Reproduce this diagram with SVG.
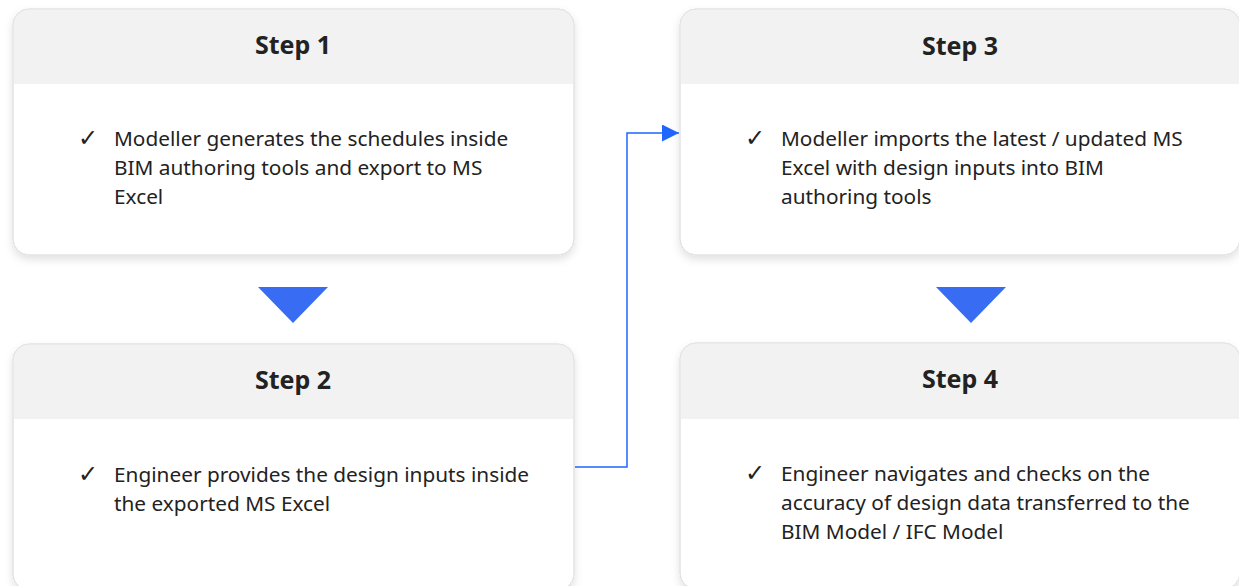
<svg xmlns="http://www.w3.org/2000/svg" width="1239" height="586" viewBox="0 0 1239 586">
<defs>
<filter id="sh" x="-10%" y="-10%" width="120%" height="130%">
<feDropShadow dx="0" dy="4" stdDeviation="4" flood-color="#000" flood-opacity="0.12"/>
</filter>
<clipPath id="c1"><rect x="13" y="9" width="561" height="246" rx="16"/></clipPath>
<clipPath id="c2"><rect x="13" y="344" width="561" height="246" rx="16"/></clipPath>
<clipPath id="c3"><rect x="680" y="9" width="560" height="246" rx="16"/></clipPath>
<clipPath id="c4"><rect x="680" y="343" width="560" height="246" rx="16"/></clipPath>
<marker id="ah" viewBox="0 0 10 10" refX="10" refY="5" markerWidth="17" markerHeight="17" markerUnits="userSpaceOnUse" orient="auto">
<path d="M0,0 L10,5 L0,10 Z" fill="#1f66ff"/>
</marker>
</defs>
<style>
.card{fill:#fff;stroke:#e2e2e2;stroke-width:1}
.hd{fill:#f2f2f2}
.title{font-family:"Noto Sans","Lato",sans-serif;font-weight:700;font-size:25px;fill:#222;text-anchor:middle}
.tx{font-family:"Noto Sans","Open Sans",sans-serif;font-size:20.8px;fill:#222}
.ck{font-family:"DejaVu Sans",sans-serif;font-size:24px;fill:#222}
.tri{fill:#386cf2}
</style>
<rect width="1239" height="586" fill="#fff"/>
<g id="step1">
<rect class="card" x="13" y="9" width="561" height="246" rx="16" filter="url(#sh)"/>
<rect class="hd" x="13" y="9" width="561" height="75" clip-path="url(#c1)"/>
<rect x="13" y="9" width="561" height="246" rx="16" fill="none" stroke="#e2e2e2"/>
<text class="title" x="293" y="54">Step 1</text>
<text class="ck" x="78" y="146">✓</text>
<text class="tx" x="114" y="146">Modeller generates the schedules inside</text>
<text class="tx" x="114" y="175">BIM authoring tools and export to MS</text>
<text class="tx" x="114" y="204">Excel</text>
</g>
<g id="step2">
<rect class="card" x="13" y="344" width="561" height="246" rx="16" filter="url(#sh)"/>
<rect class="hd" x="13" y="344" width="561" height="75" clip-path="url(#c2)"/>
<rect x="13" y="344" width="561" height="246" rx="16" fill="none" stroke="#e2e2e2"/>
<text class="title" x="293" y="389">Step 2</text>
<text class="ck" x="78" y="482">✓</text>
<text class="tx" x="114" y="482">Engineer provides the design inputs inside</text>
<text class="tx" x="114" y="511">the exported MS Excel</text>
</g>
<g id="step3">
<rect class="card" x="680" y="9" width="560" height="246" rx="16" filter="url(#sh)"/>
<rect class="hd" x="680" y="9" width="560" height="75" clip-path="url(#c3)"/>
<rect x="680" y="9" width="560" height="246" rx="16" fill="none" stroke="#e2e2e2"/>
<text class="title" x="960" y="55">Step 3</text>
<text class="ck" x="745" y="146">✓</text>
<text class="tx" x="781" y="146">Modeller imports the latest / updated MS</text>
<text class="tx" x="781" y="175">Excel with design inputs into BIM</text>
<text class="tx" x="781" y="204">authoring tools</text>
</g>
<g id="step4">
<rect class="card" x="680" y="343" width="560" height="246" rx="16" filter="url(#sh)"/>
<rect class="hd" x="680" y="343" width="560" height="76" clip-path="url(#c4)"/>
<rect x="680" y="343" width="560" height="246" rx="16" fill="none" stroke="#e2e2e2"/>
<text class="title" x="960" y="388">Step 4</text>
<text class="ck" x="745" y="481">✓</text>
<text class="tx" x="781" y="481">Engineer navigates and checks on the</text>
<text class="tx" x="781" y="510">accuracy of design data transferred to the</text>
<text class="tx" x="781" y="539">BIM Model / IFC Model</text>
</g>
<g id="connectors">
<polygon class="tri" points="258,287 328,287 293,323"/>
<polygon class="tri" points="936,287 1006,287 971,323"/>
<polyline points="575,467 627,467 627,133 679,133" fill="none" stroke="#1f66ff" stroke-width="1.5" marker-end="url(#ah)"/>
</g>
</svg>
